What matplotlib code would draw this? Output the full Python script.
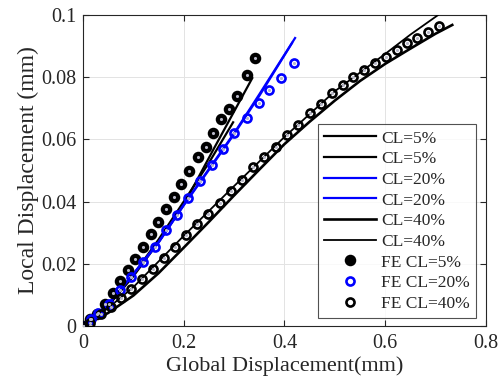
import matplotlib
matplotlib.use("Agg")
import matplotlib.pyplot as plt

plt.rcParams['font.family'] = ['Liberation Serif', 'DejaVu Serif']

# ---- data ----
cl5_line1_x = [0, 0.05, 0.10, 0.15, 0.20, 0.258, 0.30, 0.336]
cl5_line1_y = [0, 0.0065, 0.0160, 0.0270, 0.0390, 0.0565, 0.0690, 0.0797]
cl5_line2_x = [0, 0.05, 0.10, 0.15, 0.20, 0.25, 0.298]
cl5_line2_y = [0, 0.0068, 0.0165, 0.0278, 0.0400, 0.0525, 0.0655]

cl20_line1_x = [0, 0.05, 0.10, 0.15, 0.20, 0.25, 0.30, 0.35, 0.421]
cl20_line1_y = [0, 0.0070, 0.0168, 0.0270, 0.0390, 0.0505, 0.0620, 0.0745, 0.0926]
cl20_line2_x = [0, 0.05, 0.10, 0.15, 0.20, 0.25, 0.30, 0.35, 0.415]
cl20_line2_y = [0, 0.0069, 0.0166, 0.0268, 0.0388, 0.0502, 0.0617, 0.0740, 0.0910]

cl40_line1_x = [0, 0.05, 0.10, 0.15, 0.20, 0.25, 0.30, 0.35, 0.40, 0.45, 0.50, 0.55,
                0.60, 0.65, 0.70, 0.733]
cl40_line1_y = [0, 0.0042, 0.0098, 0.0170, 0.0252, 0.0335, 0.0420, 0.0503, 0.0585, 0.0657,
                0.0725, 0.0788, 0.0843, 0.0892, 0.0940, 0.0968]
cl40_line2_x = [0, 0.05, 0.10, 0.20, 0.30, 0.40, 0.50, 0.60, 0.65, 0.705]
cl40_line2_y = [0, 0.0058, 0.0125, 0.0290, 0.0450, 0.0608, 0.0755, 0.0875, 0.0937, 0.1000]

fe5_x = [0, 0.014, 0.028, 0.044, 0.060, 0.073, 0.089, 0.103, 0.119, 0.135, 0.149, 0.165,
         0.181, 0.195, 0.211, 0.228, 0.244, 0.259, 0.274, 0.290, 0.306, 0.326, 0.342]
fe5_y = [0, 0.0023, 0.0039, 0.0071, 0.0106, 0.0145, 0.0180, 0.0216, 0.0255, 0.0297, 0.0335,
         0.0377, 0.0416, 0.0458, 0.0500, 0.0542, 0.0577, 0.0619, 0.0665, 0.0697, 0.0739,
         0.0806, 0.0861]

fe20_x = [0, 0.015, 0.030, 0.052, 0.073, 0.095, 0.119, 0.143, 0.165, 0.187, 0.208, 0.232,
          0.256, 0.278, 0.300, 0.326, 0.349, 0.369, 0.393, 0.419]
fe20_y = [0, 0.0022, 0.0042, 0.0071, 0.0116, 0.0158, 0.0206, 0.0255, 0.0310, 0.0358, 0.0413,
          0.0465, 0.0519, 0.0568, 0.0619, 0.0668, 0.0716, 0.0758, 0.0797, 0.0845]

fe40_x = [0, 0.014, 0.036, 0.056, 0.075, 0.095, 0.117, 0.139, 0.161, 0.183, 0.205, 0.226,
          0.248, 0.272, 0.294, 0.316, 0.338, 0.359, 0.383, 0.405, 0.427, 0.451, 0.473,
          0.494, 0.516, 0.536, 0.558, 0.580, 0.602, 0.624, 0.643, 0.663, 0.685, 0.707]
fe40_y = [0, 0.0010, 0.0039, 0.0061, 0.0090, 0.0119, 0.0152, 0.0184, 0.0220, 0.0255, 0.0294,
          0.0329, 0.0361, 0.0397, 0.0435, 0.0470, 0.0510, 0.0545, 0.0577, 0.0613, 0.0645,
          0.0684, 0.0713, 0.0748, 0.0774, 0.0800, 0.0823, 0.0845, 0.0865, 0.0887, 0.0910,
          0.0926, 0.0945, 0.0965]

x_ticks = [0, 0.2, 0.4, 0.6, 0.8]
x_tick_labels = ['0', '0.2', '0.4', '0.6', '0.8']
y_ticks = [0, 0.02, 0.04, 0.06, 0.08, 0.1]
y_tick_labels = ['0', '0.02', '0.04', '0.06', '0.08', '0.1']

# ---- plot ----
txt = '#262626'
fig = plt.figure(figsize=(5.02, 3.83), dpi=100)
ax = fig.add_axes([83 / 502, 57 / 383, 403 / 502, 311 / 383])

lw = 1.6
ax.plot(cl5_line1_x, cl5_line1_y, color='black', lw=lw, label='CL=5%', zorder=3)
ax.plot(cl5_line2_x, cl5_line2_y, color='black', lw=lw, label='CL=5%', zorder=3)
ax.plot(cl20_line1_x, cl20_line1_y, color='#0000ff', lw=lw, label='CL=20%', zorder=3)
ax.plot(cl20_line2_x, cl20_line2_y, color='#0000ff', lw=lw, label='CL=20%', zorder=3)
ax.plot(cl40_line1_x, cl40_line1_y, color='black', lw=lw + 0.3, label='CL=40%', zorder=3)
ax.plot(cl40_line2_x, cl40_line2_y, color='black', lw=1.3, label='CL=40%', zorder=3)

ms = 5.8
ax.plot(fe5_x, fe5_y, ls='none', marker='o', ms=ms + 1, mfc='black', mec='black', mew=1.5,
        label='FE CL=5%', zorder=4)
ax.plot(fe20_x, fe20_y, ls='none', marker='o', ms=ms, mfc='none', mec='#0000ff', mew=1.9,
        label='FE CL=20%', zorder=4)
ax.plot(fe40_x, fe40_y, ls='none', marker='o', ms=ms, mfc='none', mec='black', mew=1.9,
        label='FE CL=40%', zorder=4)
for xs, ys in [(fe5_x, fe5_y), (fe20_x, fe20_y), (fe40_x, fe40_y)]:
    ax.plot(xs, ys, ls='none', marker='.', ms=2.5, color='#b8b8c8', zorder=5,
            label='_nolegend_')

ax.set_xlim(0, 0.8)
ax.set_ylim(0, 0.1)
ax.set_xticks(x_ticks)
ax.set_xticklabels(x_tick_labels)
ax.set_yticks(y_ticks)
ax.set_yticklabels(y_tick_labels)
ax.tick_params(direction='in', top=True, right=True, labelsize=14.5, colors=txt,
               length=4, width=0.8)
ax.tick_params(axis='x', pad=6)
ax.tick_params(axis='y', pad=5)
ax.grid(True, color='#e3e3e3', lw=0.7)
ax.set_axisbelow(True)
for s in ax.spines.values():
    s.set_color(txt)
    s.set_linewidth(0.8)

ax.set_xlabel('Global Displacement(mm)', fontsize=16, color=txt, labelpad=2)
ax.set_ylabel('Local Displacement (mm)', fontsize=17, color=txt, labelpad=1)

leg = ax.legend(loc='lower left', bbox_to_anchor=(0.583, 0.026), borderaxespad=0,
                fontsize=12.5, frameon=True, fancybox=False, edgecolor=txt,
                handlelength=3.0, handletextpad=0.3, labelspacing=0.26,
                borderpad=0.35)
leg.get_frame().set_linewidth(0.8)
for t in leg.get_texts():
    t.set_color(txt)

fig.savefig('out.png', dpi=100)
